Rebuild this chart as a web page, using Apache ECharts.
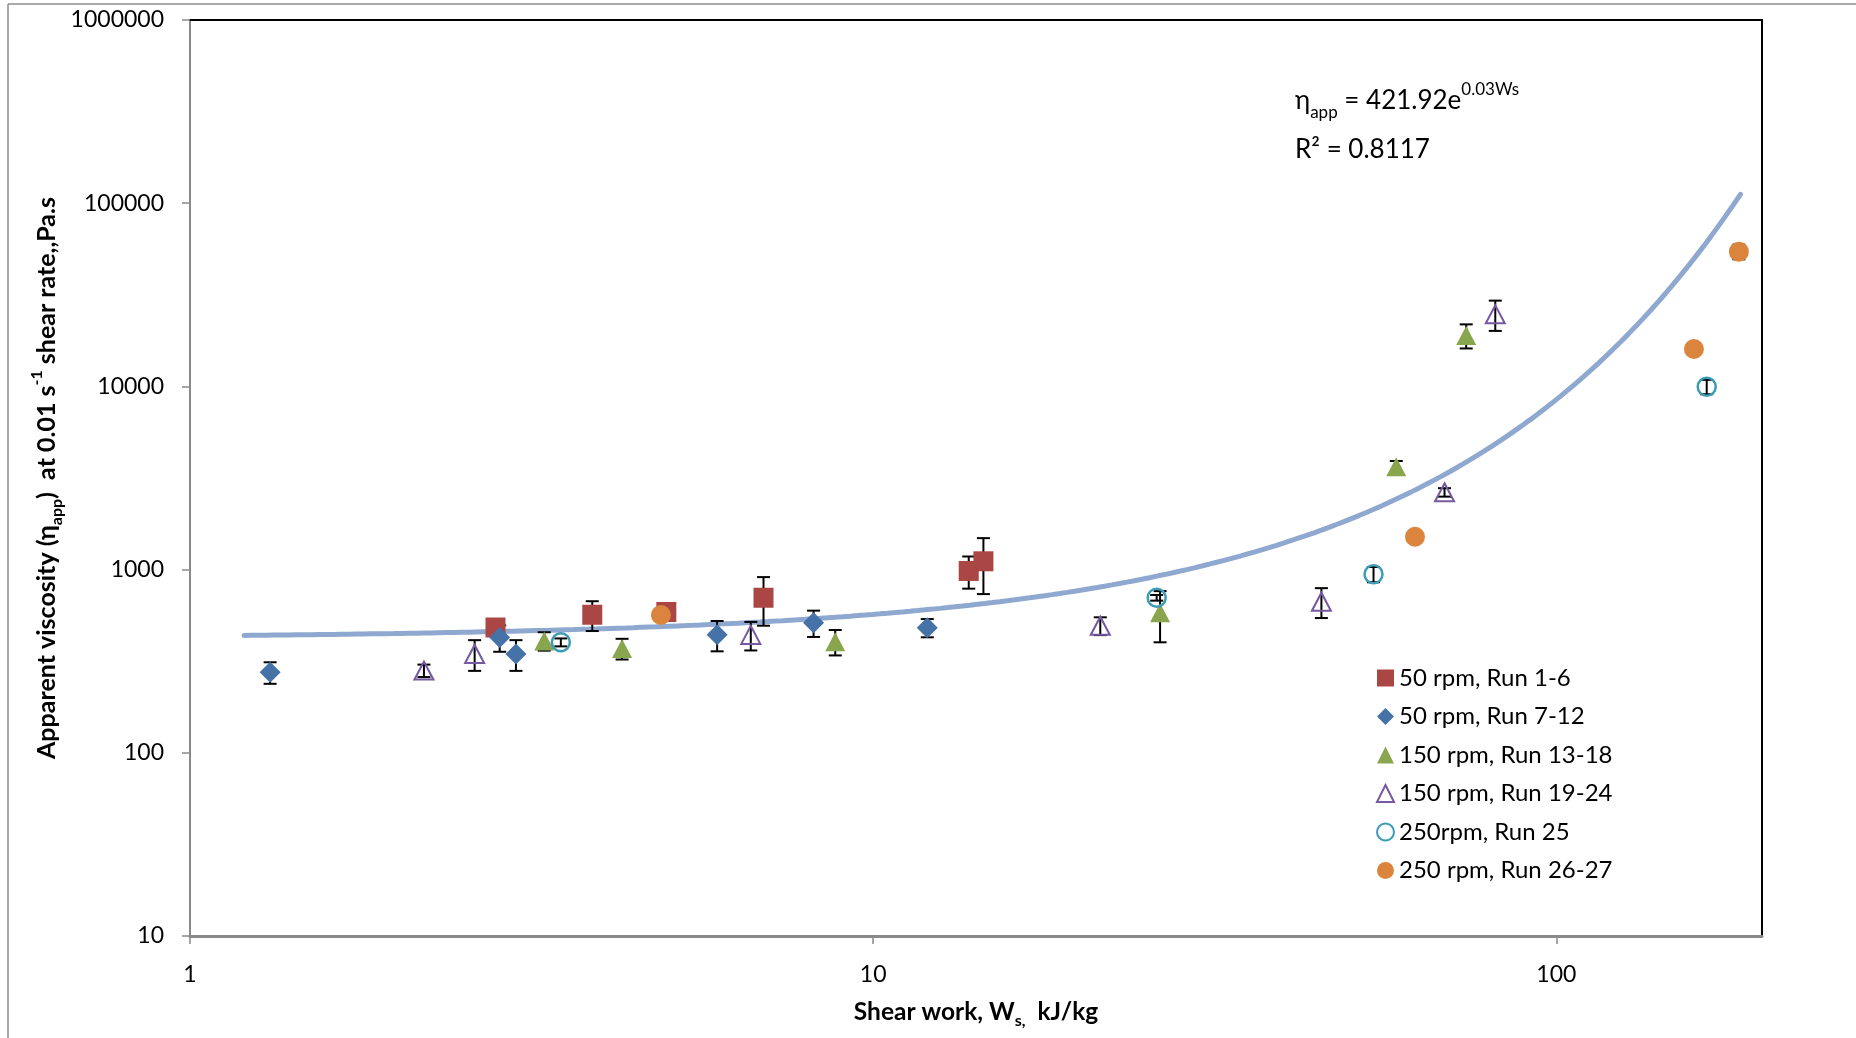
<!DOCTYPE html>
<html><head><meta charset="utf-8">
<script src="https://cdn.jsdelivr.net/npm/echarts@6/dist/echarts.min.js"></script>
<style>html,body{margin:0;padding:0;background:#fff}#c{width:1856px;height:1038px}</style>
</head><body><div id="c"></div>
<script>
// ---- axis ticks ----
const xTicks = [1, 10, 100];
const yTicks = [10, 100, 1000, 10000, 100000, 1000000];

// ---- data: shear work (kJ/kg), apparent viscosity (Pa.s), error (Pa.s) ----
const run1_6_ws  = [2.80, 3.88, 4.98, 6.91, 13.8, 14.5];
const run1_6_eta = [483, 567, 587, 702, 983, 1110];
const run1_6_err = [0, 105, 0, 208, 196, 375];

const run7_12_ws  = [1.31, 2.84, 3.00, 5.91, 8.18, 12.0];
const run7_12_eta = [275, 426, 346, 441, 513, 482];
const run7_12_err = [37, 70, 66, 83, 84, 55];

const run13_18_ws  = [3.30, 4.29, 8.80, 26.3, 58.3, 73.8];
const run13_18_eta = [408, 371, 404, 582, 3645, 18960];
const run13_18_err = [47, 48, 64, 181, 270, 2850];

const run19_24_ws  = [2.20, 2.61, 6.62, 21.5, 45.3, 68.6, 81.4];
const run19_24_eta = [281, 346, 440, 494, 668, 2642, 24740];
const run19_24_err = [22, 66, 78, 55, 124, 140, 4650];

const run25_ws  = [3.49, 26.0, 54.0, 166];
const run25_eta = [401, 702, 943, 9960];
const run25_err = [20, 25, 90, 900];

const run26_27_ws  = [4.89, 62.1, 159, 185];
const run26_27_eta = [565, 1512, 16000, 54400];
const run26_27_err = [0, 0, 0, 5000];

// exponential trendline shown on the chart: eta = 421.92 * exp(0.03 * Ws)
const trendA = 421.92, trendB = 0.03, trendFrom = 1.2, trendTo = 186;

const FONT = 'Lato, "Open Sans", sans-serif';

function pts(xs, ys) { return xs.map((x, i) => [x, ys[i]]); }
function errPts(xs, ys, es) { return xs.map((x, i) => [x, ys[i], es[i]]); }

const trendData = [];
for (let i = 0; i <= 200; i++) {
  const lx = Math.log10(trendFrom) + (Math.log10(trendTo) - Math.log10(trendFrom)) * i / 200;
  const x = Math.pow(10, lx);
  trendData.push([x, trendA * Math.exp(trendB * x)]);
}

function errRender(params, api) {
  const x = api.value(0), y = api.value(1), e = api.value(2);
  if (!e) return null;
  const top = api.coord([x, y + e]);
  const bot = api.coord([x, y - e]);
  const hw = 6.5;
  const st = { stroke: '#000', lineWidth: 2 };
  return { type: 'group', children: [
    { type: 'line', shape: { x1: top[0], y1: top[1], x2: bot[0], y2: bot[1] }, style: st },
    { type: 'line', shape: { x1: top[0] - hw, y1: top[1], x2: top[0] + hw, y2: top[1] }, style: st },
    { type: 'line', shape: { x1: bot[0] - hw, y1: bot[1], x2: bot[0] + hw, y2: bot[1] }, style: st }
  ]};
}

function fmt(v) {
  const l = Math.log10(v);
  return Math.abs(l - Math.round(l)) < 1e-6 ? String(Math.round(v)) : '';
}

const seriesDefs = [
  { name: '50 rpm, Run 1-6', xs: run1_6_ws, ys: run1_6_eta, es: run1_6_err, symbol: 'rect', size: 20,
    style: { color: '#AA4643' }, icon: 'rect' },
  { name: '50 rpm, Run 7-12', xs: run7_12_ws, ys: run7_12_eta, es: run7_12_err, symbol: 'diamond', size: 21,
    style: { color: '#4572A7' }, icon: 'diamond' },
  { name: '150 rpm, Run 13-18', xs: run13_18_ws, ys: run13_18_eta, es: run13_18_err, symbol: 'triangle', size: [20, 19],
    style: { color: '#89A54E' }, icon: 'triangle' },
  { name: '150 rpm, Run 19-24', xs: run19_24_ws, ys: run19_24_eta, es: run19_24_err, symbol: 'triangle', size: [19, 18],
    style: { color: 'rgba(255,255,255,0)', borderColor: '#7559A1', borderWidth: 2 }, icon: 'triangle' },
  { name: '250rpm, Run 25', xs: run25_ws, ys: run25_eta, es: run25_err, symbol: 'circle', size: 18,
    style: { color: 'rgba(255,255,255,0)', borderColor: '#3C9BB5', borderWidth: 2.5 }, icon: 'circle' },
  { name: '250 rpm, Run 26-27', xs: run26_27_ws, ys: run26_27_eta, es: run26_27_err, symbol: 'circle', size: 20,
    style: { color: '#DB843D' }, icon: 'circle' }
];

const series = [{
  type: 'line', name: 'trend', data: trendData, showSymbol: false, symbol: 'none',
  lineStyle: { color: '#8EA8D0', width: 5, cap: 'round' }, z: 1, silent: true
}];
seriesDefs.forEach((d, i) => {
  series.push({ type: 'custom', name: 'err' + i, data: errPts(d.xs, d.ys, d.es),
    encode: { x: 0, y: 1 }, renderItem: errRender, z: 2, silent: true });
});
seriesDefs.forEach(d => {
  series.push({ type: 'scatter', name: d.name, data: pts(d.xs, d.ys), symbol: d.symbol,
    symbolSize: d.size, itemStyle: Object.assign({ opacity: 1 }, d.style), z: 3, silent: true });
});

const legendData = seriesDefs.map(d => ({
  name: d.name, icon: d.icon,
  itemStyle: Object.assign({}, d.style, d.style.borderWidth ? { borderWidth: 2 } : {})
}));

const option = {
  animation: false,
  backgroundColor: '#ffffff',
  grid: { left: 190, top: 20, right: 94, bottom: 102, containLabel: false },
  xAxis: [{
    type: 'log', logBase: 10, min: 1, max: 200, position: 'bottom',
    axisLine: { show: true, onZero: false, lineStyle: { color: '#898989', width: 3 } },
    axisTick: { show: true, length: 8, lineStyle: { color: '#898989', width: 1.5 }, customValues: xTicks },
    axisLabel: { show: true, customValues: xTicks, margin: 27, fontFamily: FONT, fontSize: 23, lineHeight: 23,
      color: '#000', formatter: fmt },
    splitLine: { show: false }, minorTick: { show: false }
  }, {
    type: 'log', logBase: 10, min: 1, max: 200, position: 'top',
    axisLine: { show: true, onZero: false, lineStyle: { color: '#000', width: 2 } },
    axisTick: { show: false }, axisLabel: { show: false }, splitLine: { show: false }
  }],
  yAxis: [{
    type: 'log', logBase: 10, min: 10, max: 1000000, position: 'left',
    axisLine: { show: true, onZero: false, lineStyle: { color: '#898989', width: 2 } },
    axisTick: { show: true, length: 8, lineStyle: { color: '#898989', width: 1.5 }, customValues: yTicks },
    axisLabel: { show: true, customValues: yTicks, margin: 26, fontFamily: FONT, fontSize: 23, lineHeight: 23,
      color: '#000', formatter: fmt },
    splitLine: { show: false }, minorTick: { show: false }
  }, {
    type: 'log', logBase: 10, min: 10, max: 1000000, position: 'right',
    axisLine: { show: true, onZero: false, lineStyle: { color: '#000', width: 2 } },
    axisTick: { show: false }, axisLabel: { show: false }, splitLine: { show: false }
  }],
  legend: {
    orient: 'vertical', left: 1371, top: 661, itemWidth: 17, itemHeight: 17, itemGap: 14.5,
    selectedMode: false, data: legendData,
    textStyle: { fontFamily: FONT, fontSize: 24, lineHeight: 24, color: '#000' }
  },
  graphic: [
    { type: 'line', shape: { x1: 8, y1: 4, x2: 8, y2: 1038 }, style: { stroke: '#8c8c8c', lineWidth: 1.5 }, silent: true },
    { type: 'line', shape: { x1: 8, y1: 4, x2: 1856, y2: 4 }, style: { stroke: '#8c8c8c', lineWidth: 1.5 }, silent: true },
    { type: 'text', x: 47, y: 478, rotation: Math.PI / 2, silent: true,
      style: {
        text: '{t|Apparent viscosity (η}{sub|app}{t|)  at 0.01 s}{sup|-1}{t| shear rate,,Pa.s}',
        textAlign: 'center', textVerticalAlign: 'middle', fill: '#000',
        rich: {
          t: { fontFamily: FONT, fontWeight: 'bold', fontSize: 25, lineHeight: 36, fill: '#000' },
          sub: { fontFamily: FONT, fontWeight: 'bold', fontSize: 16, lineHeight: 16, verticalAlign: 'bottom', fill: '#000' },
          sup: { fontFamily: FONT, fontWeight: 'bold', fontSize: 16, lineHeight: 16, verticalAlign: 'top', fill: '#000' }
        }
      } },
    { type: 'text', x: 976, y: 1012, silent: true,
      style: {
        text: '{t|Shear work, W}{sub|s,}{t|  kJ/kg}',
        textAlign: 'center', textVerticalAlign: 'middle', fill: '#000',
        rich: {
          t: { fontFamily: FONT, fontWeight: 'bold', fontSize: 24.5, lineHeight: 34, fill: '#000' },
          sub: { fontFamily: FONT, fontWeight: 'bold', fontSize: 16, lineHeight: 16, verticalAlign: 'bottom', fill: '#000' }
        }
      } },
    { type: 'text', x: 1295, y: 101, silent: true,
      style: {
        text: '{e|η}{sub|app}{e| = 421.92e}{sup|0.03Ws}',
        textAlign: 'left', textVerticalAlign: 'middle', fill: '#000',
        rich: {
          e: { fontFamily: FONT, fontSize: 26, lineHeight: 40, fill: '#000' },
          sub: { fontFamily: FONT, fontSize: 17, lineHeight: 17, verticalAlign: 'bottom', fill: '#000' },
          sup: { fontFamily: FONT, fontSize: 17, lineHeight: 17, verticalAlign: 'top', fill: '#000' }
        }
      } },
    { type: 'text', x: 1295, y: 149.5, silent: true,
      style: { text: 'R² = 0.8117', textAlign: 'left', textVerticalAlign: 'middle',
        fontFamily: FONT, fontSize: 26, fill: '#000' } }
  ],
  series: series
};

const chart = echarts.init(document.getElementById('c'), null, { renderer: 'canvas' });
chart.setOption(option);
</script>
</body></html>
